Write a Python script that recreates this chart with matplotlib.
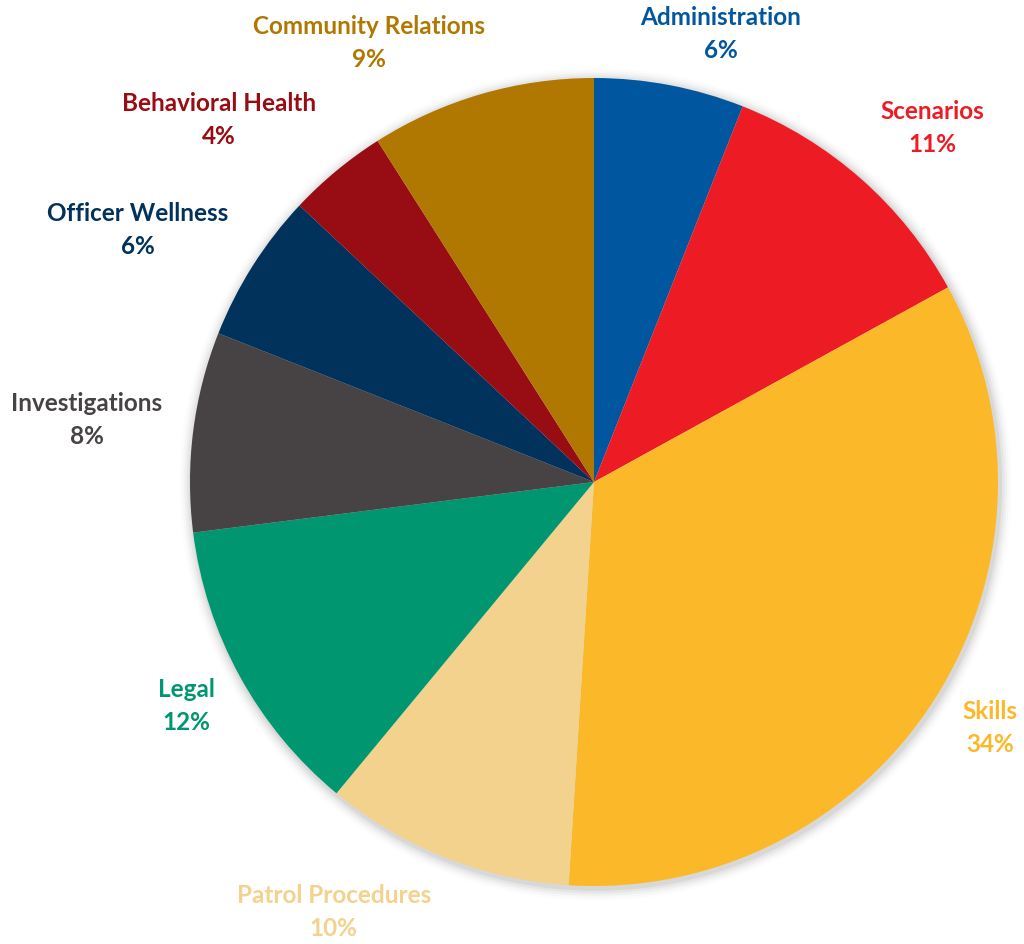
"""Training hours by topic — pie chart recreation."""
import matplotlib.pyplot as plt
from matplotlib.patches import Circle

plt.rcParams["font.family"] = ["Lato", "DejaVu Sans"]

# ── data ─────────────────────────────────────────────────────────────────────
CATEGORIES = [
    "Administration", "Scenarios", "Skills", "Patrol Procedures", "Legal",
    "Investigations", "Officer Wellness", "Behavioral Health", "Community Relations",
]
SHARES = [6, 11, 34, 10, 12, 8, 6, 4, 9]
COLORS = [
    "#0057A0", "#ED1C24", "#FBB829", "#F2D28C", "#009670",
    "#474344", "#00325C", "#980C14", "#B07800",
]

# label centres (data units, pie radius = 1)
LABEL_POS = [
    (0.314, 1.111), (0.837, 0.879), (0.980, -0.606), (-0.644, -1.062),
    (-1.010, -0.552), (-1.255, 0.156), (-1.129, 0.626), (-0.928, 0.898),
    (-0.557, 1.089),
]

# pixel geometry of the reference: centre (594, 483), radius 404
W, H, CX, CY, R = 1024, 945, 594, 483, 404

fig = plt.figure(figsize=(W / 100, H / 100), dpi=100)
ax = fig.add_axes([0, 0, 1, 1])

# soft shadow around the pie
for i, a in enumerate([0.05, 0.04, 0.03, 0.02, 0.01]):
    ax.add_patch(Circle((0.004, -0.006), 1.0 + 0.006 * (i + 1),
                        color="black", alpha=a, lw=0, zorder=0))

wedges, _ = ax.pie(SHARES, colors=COLORS, startangle=90, counterclock=False,
                   radius=1.0, wedgeprops=dict(linewidth=0, zorder=1))

for name, pct, col, (x, y) in zip(CATEGORIES, SHARES, COLORS, LABEL_POS):
    ax.text(x, y, f"{name}\n{pct}%", color=col, fontsize=17.5, fontweight="bold",
            ha="center", va="center", linespacing=1.5)

ax.set_aspect("auto")
ax.set_xlim(-CX / R, (W - CX) / R)
ax.set_ylim(-(H - CY) / R, CY / R)
ax.axis("off")

fig.savefig("out.png", dpi=100, facecolor="white")
